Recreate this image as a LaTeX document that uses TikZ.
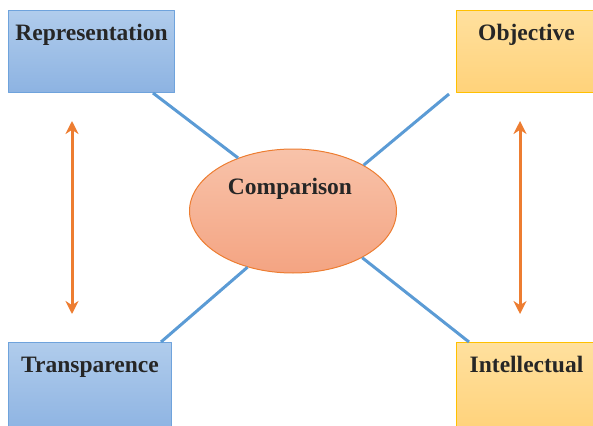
\documentclass[tikz,border=0pt]{standalone}
\usepackage{fontspec}
\setmainfont{Liberation Serif}
\usetikzlibrary{shapes.geometric,arrows.meta}

\definecolor{blueTop}{HTML}{B0CCEC}
\definecolor{blueBot}{HTML}{8DB3E2}
\definecolor{blueEdge}{HTML}{6FA3DC}
\definecolor{goldTop}{HTML}{FFE09E}
\definecolor{goldBot}{HTML}{FFD27A}
\definecolor{goldEdge}{HTML}{FFC000}
\definecolor{peachTop}{HTML}{F8C3AA}
\definecolor{peachBot}{HTML}{F4A482}
\definecolor{peachEdge}{HTML}{ED7D31}
\definecolor{linkBlue}{HTML}{5B9BD5}

\tikzset{
  box/.style={rectangle, anchor=north west, line width=1pt, inner xsep=2pt, inner ysep=13pt,
    text height=17pt, text depth=39pt, font=\fontsize{23.5}{27}\selectfont\bfseries, text=black!85},
  lowbox/.style={box, text depth=47pt},
  bluefill/.style={draw=blueEdge, top color=blueTop, bottom color=blueBot},
  goldfill/.style={draw=goldEdge, top color=goldTop, bottom color=goldBot},
  link/.style={draw=linkBlue, line width=3pt},
  swap/.style={draw=peachEdge, line width=3pt, {Stealth[length=13pt,width=13pt]}-{Stealth[length=13pt,width=13pt]}}
}

\begin{document}
\begin{tikzpicture}[x=1pt, y=-1pt, line join=round]
  \useasboundingbox (0,0) rectangle (593,425);
  % the four boxes
  \node[box, bluefill, minimum width=166] (rep) at (8,10) {Representation};
  \node[box, goldfill, minimum width=140] (obj) at (456,10) {Objective};
  \node[lowbox, bluefill, minimum width=163] (trans) at (8,342) {Transparence};
  \node[lowbox, goldfill, minimum width=140] (intel) at (456,342) {Intellectual};
  % centre
  \node[ellipse, draw=peachEdge, line width=1pt, top color=peachTop, bottom color=peachBot,
    minimum width=207, minimum height=124, inner sep=0pt] (comp) at (293,211) {};
  \node[font=\fontsize{23.5}{27}\selectfont\bfseries, text=black!85] (compText) at (290,189) {Comparison};
  % links
  \draw[link] ([xshift=-22pt]rep.south east) -- (comp.136);
  \draw[link] ([xshift=-7pt,yshift=-1pt]obj.south west) -- (comp.33);
  \draw[link] ([xshift=-11pt]trans.north east) -- (comp.231);
  \draw[link] ([xshift=13pt]intel.north west) -- (comp.326);
  % double arrows
  \coordinate (lTop) at (72,121);
  \coordinate (lBot) at (72,314);
  \coordinate (rTop) at (520,121);
  \coordinate (rBot) at (520,314);
  \draw[swap] (lTop) -- (lBot);
  \draw[swap] (rTop) -- (rBot);
\end{tikzpicture}
\end{document}
